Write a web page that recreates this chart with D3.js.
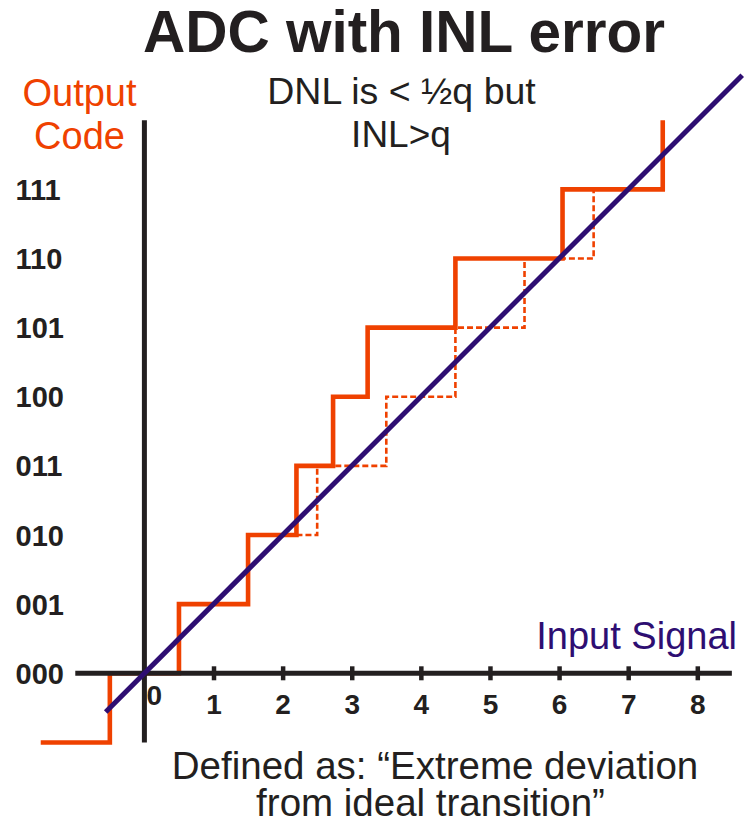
<!DOCTYPE html>
<html>
<head>
<meta charset="utf-8">
<script src="https://cdn.jsdelivr.net/npm/d3@7"></script>
<style>
  html, body { margin: 0; padding: 0; background: #fff; }
  svg { display: block; font-family: "Liberation Sans", Arial, sans-serif; }
</style>
</head>
<body>
<script>
// output code labels (code 0..7)
const codeLabels = ["000", "001", "010", "011", "100", "101", "110", "111"];
// input signal ticks
const xTickValues = [1, 2, 3, 4, 5, 6, 7, 8];
// actual ADC: input where each code starts, and the code it jumps to
const actualEdges = [-1.5, -0.5, 0.5, 1.5, 2.2, 2.73, 3.23, 4.5, 6.05, 7.5];
const actualCodes = [-1, 0, 1, 2, 3, 4, 5, 6, 7, 8];
// ideal transitions (dashed), only where they differ from the actual ones
const idealEdges = [2.2, 2.5, 3.5, 4.5, 5.5, 6.5];
const idealCodes = [2, 3, 4, 5, 6, 7];
// ideal transfer line y = x
const idealLine = [-0.56, 8.65];

function viz() {
  const width = 744, height = 824;
  const orange = "#EF4100", purple = "#2E0E72", ink = "#231F20";

  const svg = d3.select("body").append("svg")
    .attr("width", width).attr("height", height)
    .attr("viewBox", [0, 0, width, height]);

  // scales: one code / one q per ~69px
  const x = d3.scaleLinear().domain([0, 8]).range([144.4, 697.3]);
  const y = d3.scaleLinear().domain([0, 8]).range([673.3, 120.2]);

  const step = d3.line()
    .x(d => x(d[0])).y(d => y(d[1]))
    .curve(d3.curveStepAfter);

  // dashed ideal steps
  svg.append("path")
    .datum(d3.zip(idealEdges, idealCodes))
    .attr("d", step)
    .attr("fill", "none")
    .attr("stroke", orange)
    .attr("stroke-width", 2.6)
    .attr("stroke-dasharray", "6 3");

  // actual steps
  svg.append("path")
    .datum(d3.zip(actualEdges, actualCodes))
    .attr("d", step)
    .attr("fill", "none")
    .attr("stroke", orange)
    .attr("stroke-width", 4.6);

  // axes lines
  svg.append("line")
    .attr("x1", x(-1)).attr("x2", x(8.5))
    .attr("y1", y(0)).attr("y2", y(0))
    .attr("stroke", ink).attr("stroke-width", 5);
  svg.append("line")
    .attr("x1", x(0)).attr("x2", x(0))
    .attr("y1", y(8)).attr("y2", y(-1))
    .attr("stroke", ink).attr("stroke-width", 5);

  // x ticks + labels through d3 axis
  const xAxis = d3.axisBottom(x)
    .tickValues(xTickValues)
    .tickSize(14)
    .tickPadding(14)
    .tickFormat(d3.format("d"));

  const gx = svg.append("g")
    .attr("transform", `translate(0,${y(0) - 7})`)
    .call(xAxis);
  gx.select(".domain").remove();
  gx.selectAll(".tick line").attr("stroke", ink).attr("stroke-width", 4.5);
  gx.selectAll(".tick text")
    .attr("fill", ink)
    .style("font-size", "28px")
    .style("font-weight", "bold");

  // the 0 label sits beside the y axis
  svg.append("text")
    .attr("x", x(0) + 10).attr("y", y(0) + 32)
    .attr("text-anchor", "middle")
    .attr("fill", ink)
    .style("font-size", "28px").style("font-weight", "bold")
    .text("0");

  // y labels
  svg.append("g").selectAll("text")
    .data(codeLabels)
    .join("text")
    .attr("x", 15.5)
    .attr("y", (d, i) => y(i) + 10.5)
    .attr("fill", ink)
    .style("font-size", "29px").style("font-weight", "bold")
    .text(d => d);

  // ideal transfer line
  svg.append("line")
    .attr("x1", x(idealLine[0])).attr("y1", y(idealLine[0]))
    .attr("x2", x(idealLine[1])).attr("y2", y(idealLine[1]))
    .attr("stroke", purple).attr("stroke-width", 5);

  // texts
  const txt = (s, tx, ty, size, opts = {}) => svg.append("text")
    .attr("x", tx).attr("y", ty)
    .attr("text-anchor", opts.anchor || "middle")
    .attr("fill", opts.fill || ink)
    .style("font-size", size + "px")
    .style("font-weight", opts.bold ? "bold" : "normal")
    .text(s);

  txt("ADC with INL error", 404, 51.5, 58.5, { bold: true });
  txt("DNL is < \u00BDq but", 401.5, 104, 37.5);
  txt("INL>q", 401, 147, 37);
  txt("Output", 79.5, 105.5, 38, { fill: orange });
  txt("Code", 79.5, 149.3, 38, { fill: orange });
  txt("Input Signal", 737, 649, 38, { anchor: "end", fill: purple });
  txt("Defined as: \u201CExtreme deviation", 435, 779, 38.5);
  txt("from ideal transition\u201D", 430.5, 815.5, 38.5);
}
viz();
</script>
</body>
</html>
